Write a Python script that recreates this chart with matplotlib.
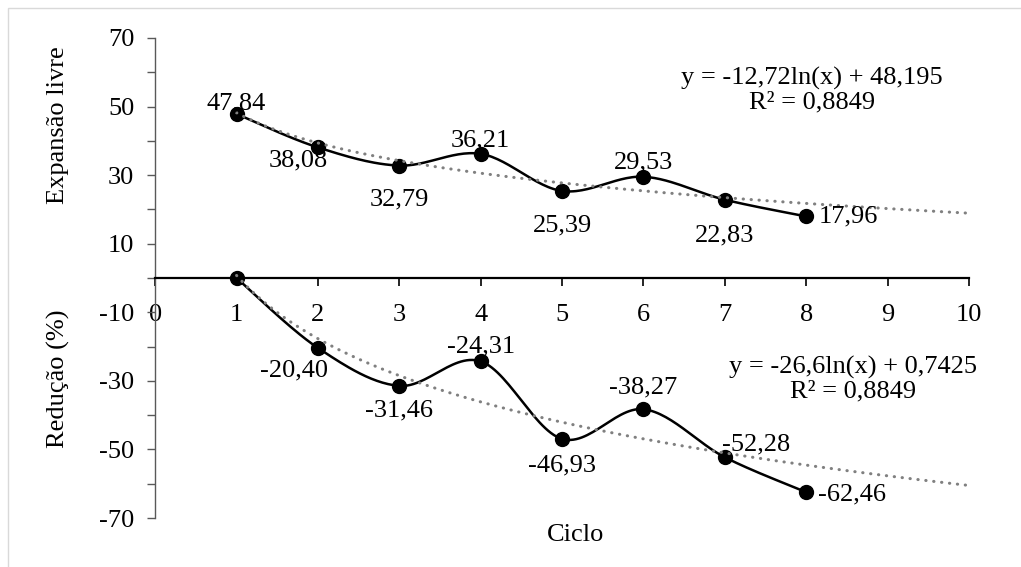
import numpy as np
import matplotlib.pyplot as plt
from matplotlib.patches import Rectangle

plt.rcParams['font.family'] = ['Liberation Serif', 'DejaVu Serif']
plt.rcParams['font.size'] = 19
plt.rcParams['axes.unicode_minus'] = False

# dados
ciclos = [1, 2, 3, 4, 5, 6, 7, 8]
expansao = [47.84, 38.08, 32.79, 36.21, 25.39, 29.53, 22.83, 17.96]
reducao = [0, -20.40, -31.46, -24.31, -46.93, -38.27, -52.28, -62.46]
rotulos_exp = ['47,84', '38,08', '32,79', '36,21', '25,39', '29,53', '22,83', '17,96']
rotulos_red = ['', '-20,40', '-31,46', '-24,31', '-46,93', '-38,27', '-52,28', '-62,46']
# tendencia logaritmica (a*ln(x) + b)
tend_exp = (-12.72, 48.195)
tend_red = (-26.6, 0.7425)
eq_exp = 'y = -12,72ln(x) + 48,195\nR² = 0,8849'
eq_red = 'y = -26,6ln(x) + 0,7425\nR² = 0,8849'


def suavizar(x, y, n=30):
    # curva suave tipo Excel (bezier com pontos de controle 1/6)
    x = np.asarray(x, float)
    y = np.asarray(y, float)
    p = np.column_stack([x, y])
    pts = [p[0]]
    for i in range(len(p) - 1):
        p0 = p[i - 1] if i > 0 else p[i]
        p3 = p[i + 2] if i + 2 < len(p) else p[i + 1]
        c1 = p[i] + (p[i + 1] - p0) / 6
        c2 = p[i + 1] - (p3 - p[i]) / 6
        t = np.linspace(0, 1, n)[1:, None]
        seg = ((1 - t) ** 3 * p[i] + 3 * (1 - t) ** 2 * t * c1
               + 3 * (1 - t) * t ** 2 * c2 + t ** 3 * p[i + 1])
        pts.extend(seg)
    pts = np.array(pts)
    return pts[:, 0], pts[:, 1]


fig = plt.figure(figsize=(10.21, 5.67), dpi=100)
ax = fig.add_axes([0.152, 0.0864, 0.797, 0.8466])

for ys, tend, rot, offs in [
        (expansao, tend_exp, rotulos_exp,
         [(0, 11, 'center'), (-20, -13, 'center'), (0, -34, 'center'), (0, 13, 'center'),
          (0, -35, 'center'), (0, 14, 'center'), (0, -36, 'center'), (12, 0, 'left')]),
        (reducao, tend_red, rotulos_red,
         [(0, 0, 'center'), (-24, -23, 'center'), (0, -25, 'center'), (0, 15, 'center'),
          (0, -27, 'center'), (0, 22, 'center'), (-3, 13, 'left'), (12, -2, 'left')])]:
    xs, yy = suavizar(ciclos, ys)
    ax.plot(xs, yy, color='black', lw=1.8, zorder=3)
    ax.plot(ciclos, ys, 'o', color='black', ms=10, zorder=4)
    xt = np.linspace(1, 10, 200)
    ax.plot(xt, tend[0] * np.log(xt) + tend[1], color='#808080', lw=2.2,
            linestyle=(0, (0.1, 2.5)), dash_capstyle='round', zorder=5)
    for x, y, r, (dx, dy, ha) in zip(ciclos, ys, rot, offs):
        if r:
            ax.annotate(r, (x, y), xytext=(dx, dy), textcoords='offset pixels',
                        ha=ha, va='center', zorder=6)

ax.text(8.07, 54.8, eq_exp, ha='center', va='center', linespacing=1.05)
ax.text(8.575, -29.5, eq_red, ha='center', va='center', linespacing=1.05)

ax.set_xlim(0, 10)
ax.set_ylim(-70, 70)
ax.set_xticks(range(0, 11))
ax.set_yticks([70, 50, 30, 10, -10, -30, -50, -70])
ax.set_yticks([60, 40, 20, 0, -20, -40, -60], minor=True)

ax.spines['top'].set_visible(False)
ax.spines['right'].set_visible(False)
ax.spines['bottom'].set_position(('data', 0))
ax.spines['bottom'].set_color('black')
ax.spines['bottom'].set_linewidth(1.6)
ax.spines['left'].set_color('#595959')
ax.spines['left'].set_linewidth(1.0)
ax.tick_params(axis='y', which='both', length=6, width=1, color='#595959', pad=9)
ax.tick_params(axis='x', length=6, width=1.2, color='black', pad=13)

fig.text(58 / 1021, 1 - 125 / 567, 'Expansão livre', rotation=90, ha='center', va='center')
fig.text(58 / 1021, 1 - 379 / 567, 'Redução (%)', rotation=90, ha='center', va='center')
fig.text(576 / 1021, 1 - 535 / 567, 'Ciclo', ha='center', va='center')

fig.patches.append(Rectangle((8 / 1021, -0.05), 1.1, 1.05 - 8 / 567, transform=fig.transFigure,
                             fill=False, edgecolor='#D9D9D9', lw=1))

fig.savefig('out.png', dpi=100)
